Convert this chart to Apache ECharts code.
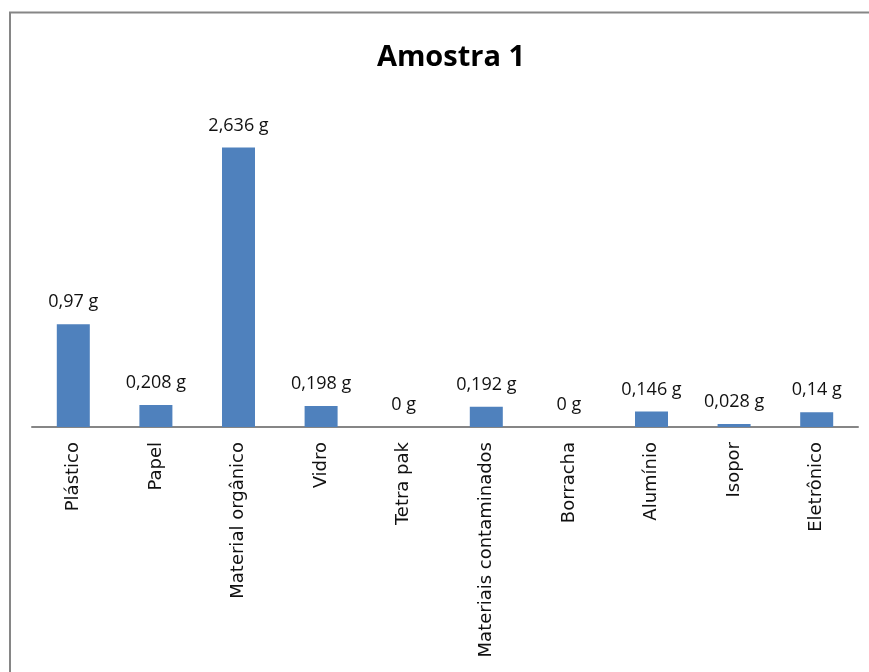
<!DOCTYPE html>
<html>
<head>
<meta charset="utf-8">
<script src="https://cdn.jsdelivr.net/npm/echarts@6/dist/echarts.min.js"></script>
<style>html,body{margin:0;padding:0;background:#fff}#c{width:869px;height:672px}</style>
</head>
<body>
<div id="c"></div>
<script>
const categories = ["Plástico","Papel","Material orgânico","Vidro","Tetra pak","Materiais contaminados","Borracha","Alumínio","Isopor","Eletrônico"];
const values = [0.97,0.208,2.636,0.198,0,0.192,0,0.146,0.028,0.14];
const titleText = "Amostra 1";

const chart = echarts.init(document.getElementById('c'), null, {renderer:'canvas'});
chart.setOption({
  backgroundColor:'#fff',
  animation:false,
  title:{text:titleText,left:446,top:38,textAlign:'center',
    textStyle:{fontFamily:'Open Sans',fontWeight:'bold',fontSize:29,color:'#000'}},
  graphic:[{type:'rect',shape:{x:10,y:12.5,width:900,height:700},
    style:{fill:'none',stroke:'#868686',lineWidth:2},silent:true}],
  grid:{left:32,right:11,top:109,bottom:245,containLabel:false},
  xAxis:{type:'category',data:categories,
    axisLine:{lineStyle:{color:'#868686',width:2}},
    axisTick:{show:false},
    axisLabel:{rotate:90,interval:0,margin:15,fontFamily:'DejaVu Sans',fontSize:18,color:'#111'}},
  yAxis:{type:'value',min:0,max:3,show:false,splitLine:{show:false}},
  series:[{type:'bar',data:values,barWidth:33,itemStyle:{color:'#4F81BD'},
    label:{show:true,position:'top',distance:13,fontFamily:'Open Sans',fontSize:18,color:'#111',
      formatter:p=>String(p.value).replace('.',',')+' g'}}]
});
</script>
</body>
</html>
